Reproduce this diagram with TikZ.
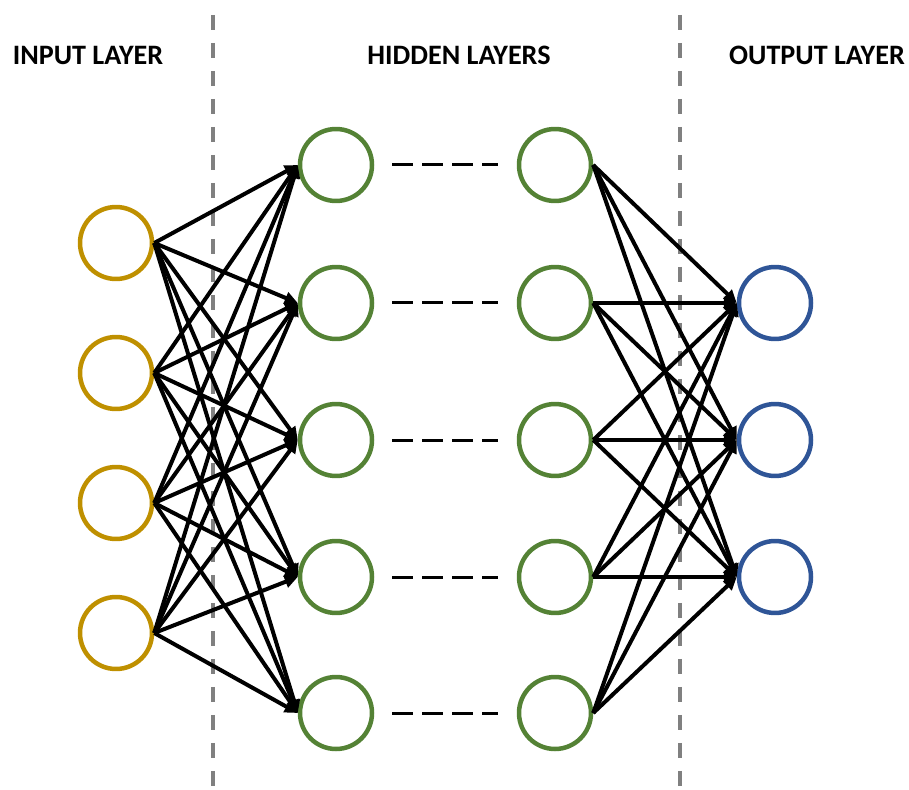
\documentclass[tikz,border=0pt]{standalone}
\usepackage{fontspec}
\setmainfont{Carlito}
\usetikzlibrary{arrows.meta}
\definecolor{inGold}{RGB}{191,144,0}
\definecolor{hidGreen}{RGB}{84,130,53}
\definecolor{outBlue}{RGB}{47,85,151}
\definecolor{sepGray}{RGB}{128,128,128}
\tikzset{
  neuron/.style={circle,draw,line width=0.09cm,minimum size=1.44cm,inner sep=0pt},
  inneuron/.style={neuron,draw=inGold},
  hidneuron/.style={neuron,draw=hidGreen},
  outneuron/.style={neuron,draw=outBlue},
  conn/.style={line width=0.08cm,-{Triangle[length=0.26cm,width=0.24cm]}},
  separator/.style={sepGray,line width=0.08cm,dash pattern=on 0.3cm off 0.26cm},
  skipdash/.style={black,line width=0.06cm,dash pattern=on 0.42cm off 0.18cm},
  layertitle/.style={font=\bfseries\fontsize{16}{19}\selectfont,text=black}
}
\begin{document}
\begin{tikzpicture}[x=0.02cm,y=-0.02cm]
\useasboundingbox (0,0) rectangle (909,790);

% layer separators
\coordinate (sepA1) at (213,15);
\coordinate (sepA2) at (213,790);
\coordinate (sepB1) at (680,15);
\coordinate (sepB2) at (680,790);
\draw[separator] (sepA1) -- (sepA2);
\draw[separator] (sepB1) -- (sepB2);

% titles
\node[layertitle] (tIn) at (88,55) {INPUT LAYER};
\node[layertitle] (tHid) at (459,55) {HIDDEN LAYERS};
\node[layertitle] (tOut) at (817,55) {OUTPUT LAYER};

% neurons
\foreach \i/\y in {1/243,2/373,3/503,4/633}
  \node[inneuron] (in\i) at (116,\y) {};
\foreach \i/\y in {1/165,2/303,3/440,4/577,5/713}{
  \node[hidneuron] (ha\i) at (336,\y) {};
  \node[hidneuron] (hb\i) at (555,\y) {};
}
\foreach \i/\y in {1/303,2/440,3/577}
  \node[outneuron] (out\i) at (775,\y) {};

% elided hidden layers
\foreach \i in {1,...,5}{
  \coordinate (dA\i) at ([xshift=0.36cm]ha\i.east);
  \coordinate (dB\i) at ([xshift=-0.38cm]hb\i.west);
  \draw[skipdash] (dA\i) -- (dB\i);
}

% connections
\foreach \i in {1,...,4}
  \foreach \j in {1,...,5}
    \draw[conn] (in\i.east) -- (ha\j.west);
\foreach \i in {1,...,5}
  \foreach \j in {1,...,3}
    \draw[conn] (hb\i.east) -- (out\j.west);
\end{tikzpicture}
\end{document}
